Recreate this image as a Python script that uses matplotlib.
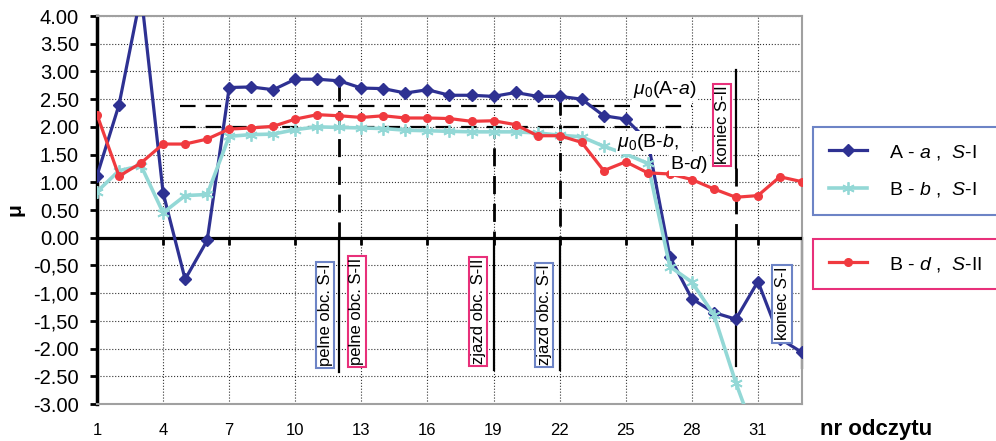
import numpy as np
import matplotlib
matplotlib.use("Agg")
import matplotlib.pyplot as plt

plt.rcParams['font.family'] = ['Liberation Sans', 'DejaVu Sans']
plt.rcParams['mathtext.fontset'] = 'custom'
plt.rcParams['mathtext.rm'] = 'Liberation Sans'
plt.rcParams['mathtext.it'] = 'Liberation Sans:italic'

# numer odczytu
nr = np.arange(1, 34)

# A-a, S-I
mu_Aa = [1.12, 2.40, 4.40, 0.81, -0.75, -0.05, 2.71, 2.72, 2.67, 2.86, 2.86,
         2.83, 2.70, 2.69, 2.61, 2.67, 2.57, 2.57, 2.55, 2.62, 2.55, 2.55,
         2.50, 2.20, 2.14, 1.75, -0.34, -1.10, -1.35, -1.47, -0.79, -1.82, -2.07]
# B-b, S-I
mu_Bb = [0.83, 1.21, 1.30, 0.45, 0.76, 0.78, 1.83, 1.86, 1.87, 1.95, 2.00,
         1.99, 1.98, 1.97, 1.94, 1.93, 1.92, 1.91, 1.91, 1.91, 1.89, 1.85,
         1.82, 1.65, 1.51, 1.34, -0.52, -0.80, -1.39, -2.62, -3.70]
# B-d, S-II
mu_Bd = [2.22, 1.11, 1.35, 1.69, 1.69, 1.78, 1.96, 1.98, 2.01, 2.14, 2.22,
         2.20, 2.17, 2.20, 2.16, 2.16, 2.15, 2.10, 2.11, 2.04, 1.84, 1.84,
         1.72, 1.21, 1.37, 1.17, 1.15, 1.05, 0.88, 0.73, 0.76, 1.10, 1.01]

# poziomy mu_0
mu0_levels = [2.38, 2.00]
mu0_x = (4.75, 28.0)

# linie znacznikowe: x, poczatek, koniec
dashed_marks = [(12, 2.80, 0.0), (19, 2.12, 0.0), (22, 2.54, 0.0), (30, 1.26, 0.0)]
solid_marks = [(12, 0.0, -2.43), (19, 0.0, -2.38), (22, 0.0, -2.38),
               (30, 3.03, 1.26), (30, 0.0, -2.32), (33, 0.0, -2.35)]

xticks = list(range(1, 32, 3))
yticks = np.arange(-3.0, 4.01, 0.5)
ylabels = ["-3.00", "-2.50", "-2.00", "-1,50", "-1,00", "-0,50", "0.00",
           "0.50", "1.00", "1.50", "2.00", "2.50", "3.00", "3.50", "4.00"]

blue = '#2E3192'
cyan = '#93D8D6'
red = '#F03A3F'
box_blue = '#6D84C6'
box_pink = '#E8307A'

# opisy w ramkach: tekst, x, y, kolor ramki
boxes = [("pelne obc. S-I", 11.35, -1.39, box_blue),
         ("pelne obc. S-II", 12.8, -1.33, box_pink),
         ("zjazd obc. S-II", 18.3, -1.33, box_pink),
         ("zjazd obc. S-I", 21.3, -1.39, box_blue),
         ("koniec S-II", 29.37, 2.04, box_pink),
         (r"koniec $S$-I", 32.1, -1.19, box_blue)]


fig = plt.figure(figsize=(9.96, 4.41), dpi=100)
ax = fig.add_axes([0.0974, 0.0839, 0.7078, 0.8798])

ax.set_xlim(1, 33)
ax.set_ylim(-3, 4)
ax.set_xticks(xticks)
ax.set_yticks(yticks)
ax.set_yticklabels(ylabels)
ax.grid(True, linestyle=':', color='#333333', linewidth=0.8)
ax.set_axisbelow(True)

ax.tick_params(axis='x', length=0, pad=14, labelsize=12)
ax.tick_params(axis='y', direction='out', length=5, width=2, pad=8, labelsize=14.5)

for s in ['top', 'right', 'bottom']:
    ax.spines[s].set_color('#A0A0A0')
    ax.spines[s].set_linewidth(1.5)
ax.spines['left'].set_color('black')
ax.spines['left'].set_linewidth(2.5)

# os zero z kreskami
ax.axhline(0, color='black', lw=2.3, zorder=3)
ax.vlines(xticks[1:], -0.13, 0, color='black', lw=2, zorder=3)

# poziome linie mu_0
ax.hlines(mu0_levels, mu0_x[0], mu0_x[1], color='black', lw=1.6,
          linestyles=[(0, (7, 4.5))], zorder=2)

for x, y0, y1 in dashed_marks:
    ax.plot([x, x], [y0, y1], color='black', lw=2.0, ls=(0, (6.5, 3.5)), zorder=2)
for x, y0, y1 in solid_marks:
    ax.plot([x, x], [y0, y1], color='black', lw=1.6, zorder=2, clip_on=False)

l1, = ax.plot(nr, mu_Aa, color=blue, lw=2.3, marker='D', ms=6.5, zorder=4,
              label=r"A - $a$ ,  $S$-I")
l2, = ax.plot(nr[:len(mu_Bb)], mu_Bb, color=cyan, lw=2.6, marker=(6, 2, 0),
              ms=9, mew=1.3, zorder=4, label=r"B - $b$ ,  $S$-I")
l3, = ax.plot(nr, mu_Bd, color=red, lw=2.3, marker='o', ms=5.5, zorder=5,
              label=r"B - $d$ ,  $S$-II")

for txt, x, y, c in boxes:
    ax.text(x, y, txt, rotation=90, ha='center', va='center', fontsize=12,
            zorder=6, bbox=dict(boxstyle='square,pad=0.1', fc='white', ec=c, lw=1.5))

ax.text(25.33, 2.67, r"$\mu_0$(A-$a$)", fontsize=14, ha='left', va='center',
        zorder=6, bbox=dict(boxstyle='square,pad=0.05', fc='white', ec='none'))
ax.text(24.6, 1.71, r"$\mu_0$(B-$b$,", fontsize=14, ha='left', va='center',
        zorder=6, bbox=dict(boxstyle='square,pad=0.05', fc='white', ec='none'))
ax.text(28.7, 1.32, r"B-$d$)", fontsize=14, ha='right', va='center',
        zorder=6, bbox=dict(boxstyle='square,pad=0.05', fc='white', ec='none'))

ax.set_ylabel("μ", fontsize=15, fontweight='bold', labelpad=6)
fig.text(820 / 996, 1 - 430 / 441, "nr odczytu", fontsize=16, fontweight='bold',
         ha='left', va='center')

leg1 = ax.legend(handles=[l1, l2], loc='upper left',
                 bbox_to_anchor=(813 / 996, 1 - 218 / 441, 0.25, (218 - 127) / 441),
                 bbox_transform=fig.transFigure, mode='expand', borderaxespad=0,
                 fontsize=14, fancybox=False, edgecolor=box_blue, framealpha=1,
                 handlelength=2.0, handletextpad=1.1, borderpad=0.8, labelspacing=0.95)
leg1.get_frame().set_linewidth(1.5)
ax.add_artist(leg1)
leg2 = ax.legend(handles=[l3], loc='upper left',
                 bbox_to_anchor=(813 / 996, 1 - 293 / 441, 0.25, (293 - 239) / 441),
                 bbox_transform=fig.transFigure, mode='expand', borderaxespad=0,
                 fontsize=14, fancybox=False, edgecolor=box_pink, framealpha=1,
                 handlelength=2.0, handletextpad=1.1, borderpad=0.8)
leg2.get_frame().set_linewidth(1.5)

fig.savefig("out.png", dpi=100)
